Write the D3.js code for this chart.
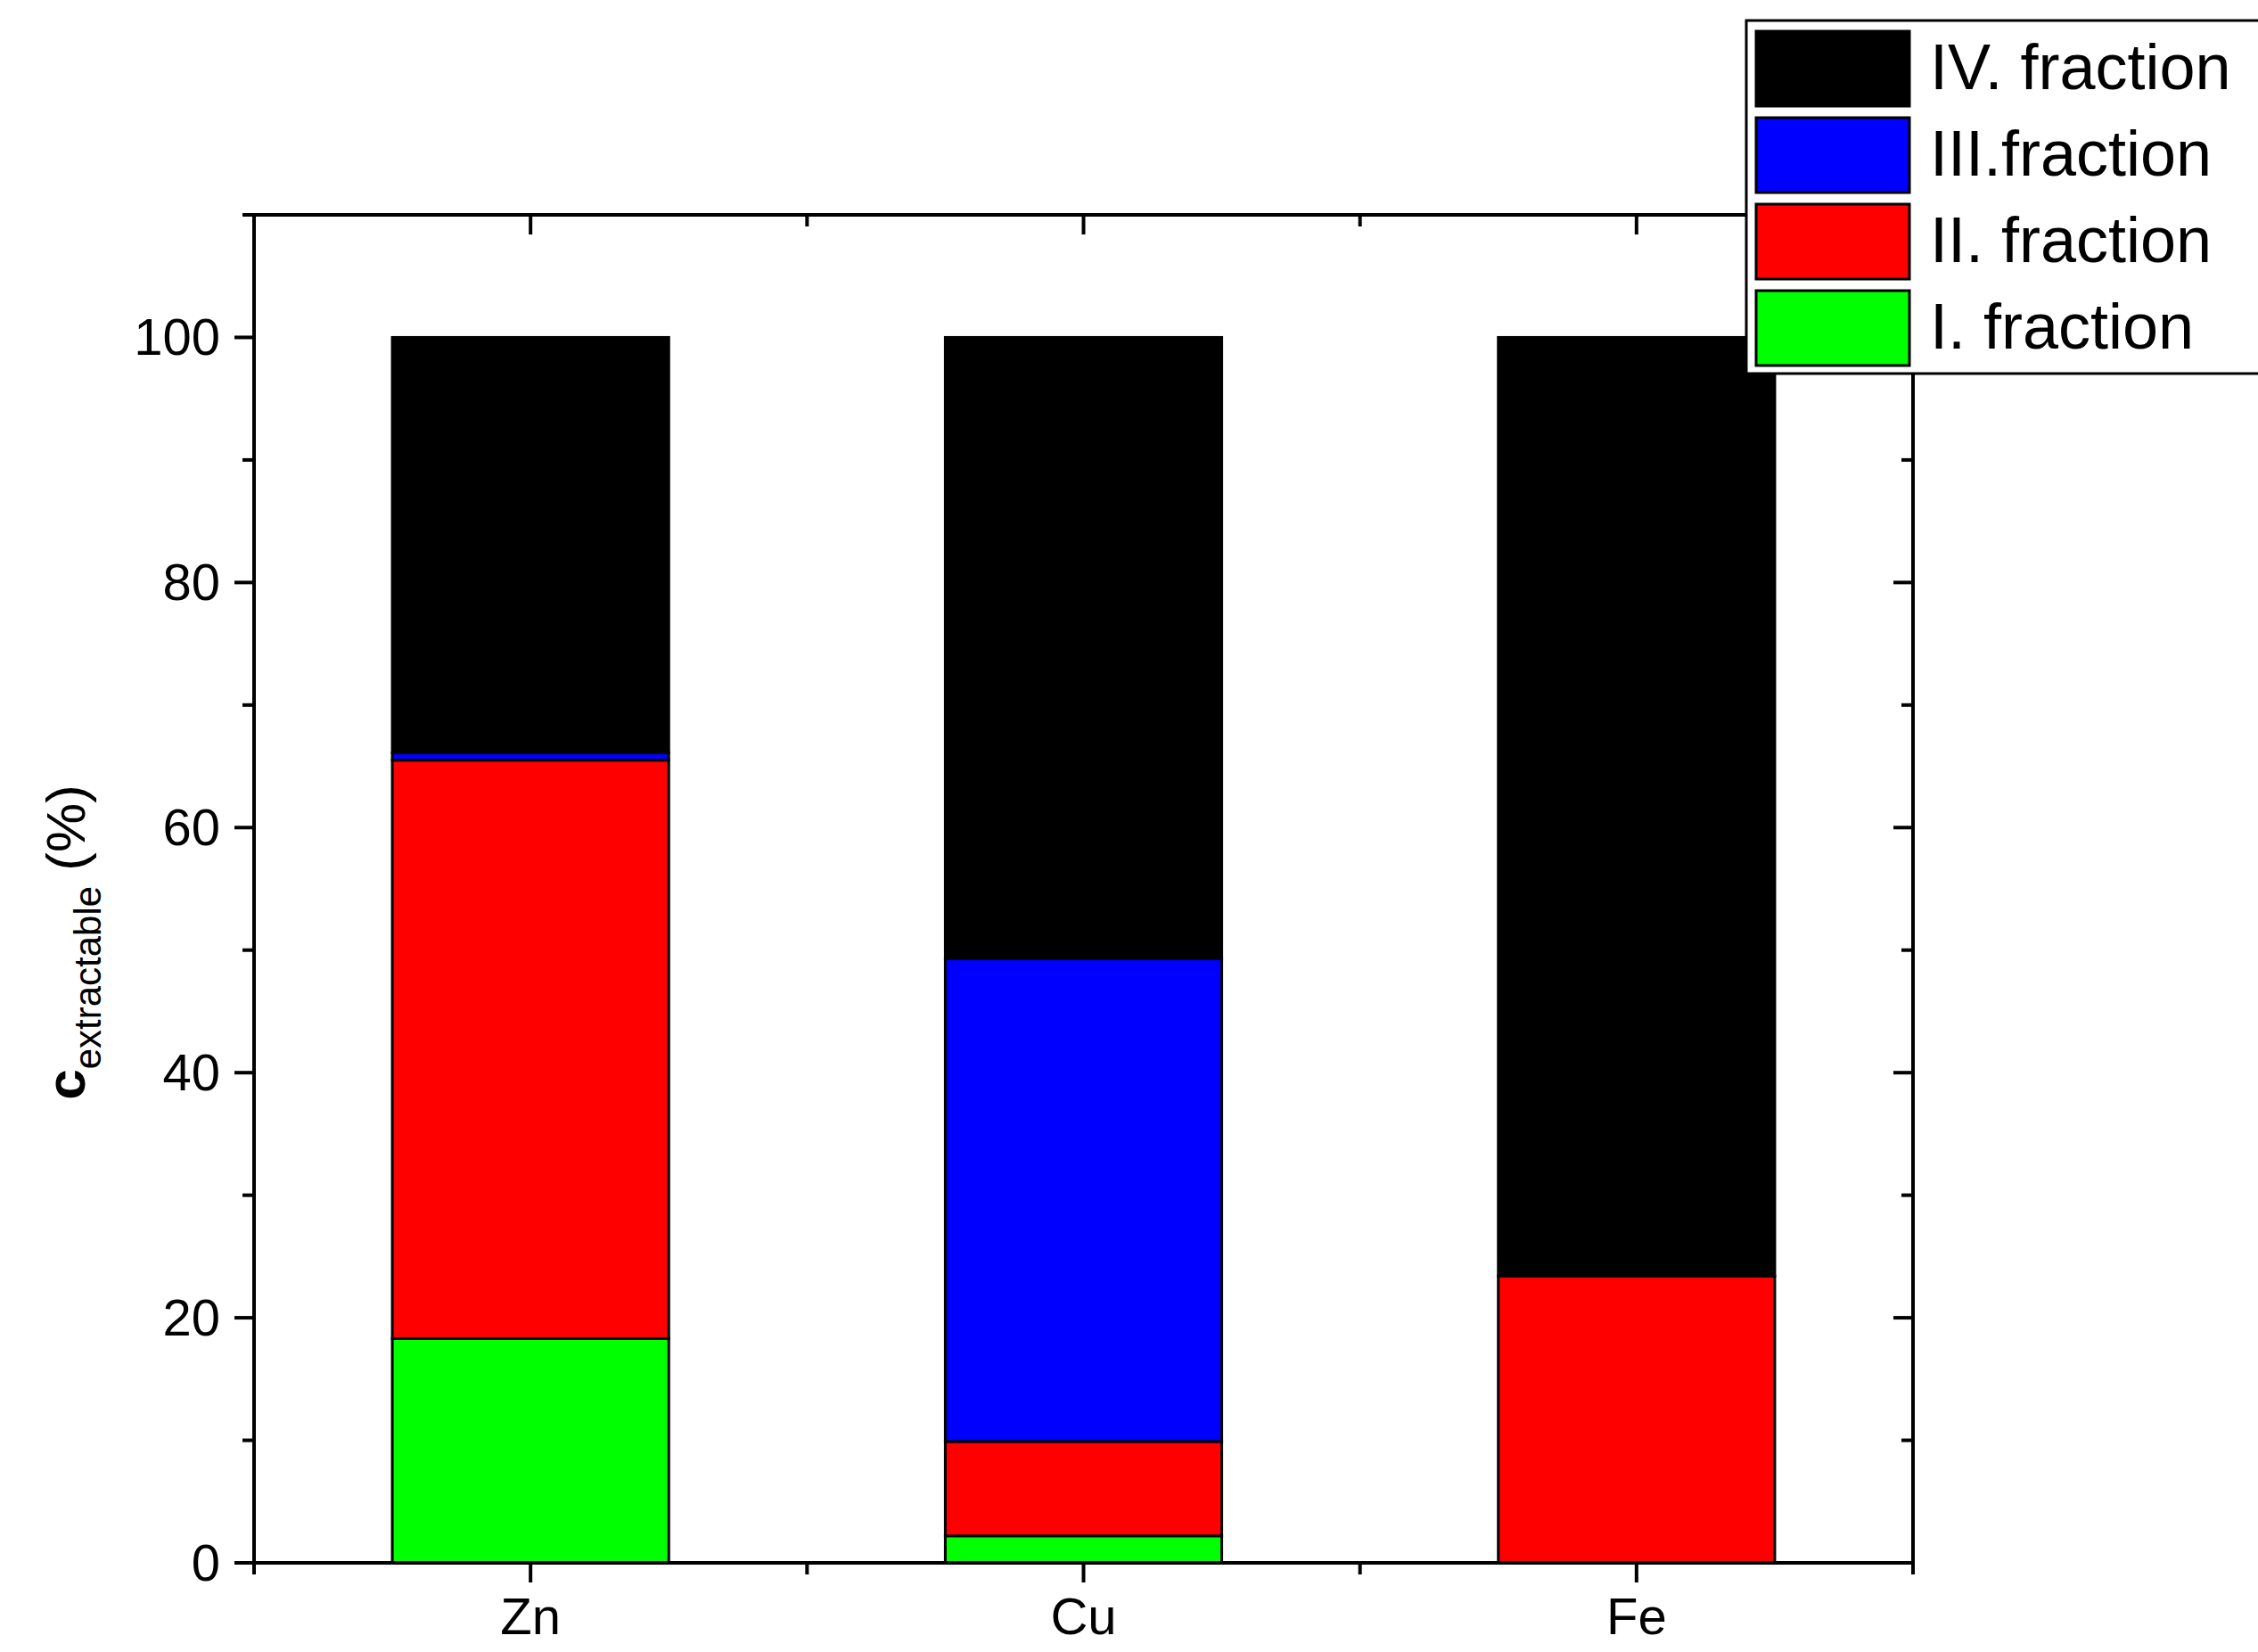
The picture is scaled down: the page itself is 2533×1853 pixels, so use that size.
<!DOCTYPE html><html><head><meta charset="utf-8">
<script src="https://cdn.jsdelivr.net/npm/d3@7"></script>
<style>body{margin:0;background:#fff}</style></head><body>
<script>
const categories=["Zn","Cu","Fe"];
const catPos=[1,3,5];
const seriesNames=["I. fraction","II. fraction","III.fraction","IV. fraction"];
const colors=["#00ff00","#ff0000","#0000ff","#000000"];
const fracI=[18.3,2.2,0];
const fracII=[47.2,7.7,23.4];
const fracIII=[0.6,39.4,0];
const fracIV=[33.9,50.7,76.6];
const yTicks=[0,20,40,60,80,100];

const W=2533,H=1853,L=285,R=2146,T=241,B=1753;
const svg=d3.select("body").append("svg").attr("width",W).attr("height",H).style("font-family","Liberation Sans, Arial");
const x=d3.scaleLinear().domain([0,6]).range([L,R]);
const y=d3.scaleLinear().domain([0,110]).range([B,T]);
const series=[fracI,fracII,fracIII,fracIV];
categories.forEach((c,i)=>{let base=0;series.forEach((s,k)=>{const v=s[i];if(v>0){
 svg.append("rect").attr("x",x(catPos[i]-0.5)).attr("width",x(1)-x(0)).attr("y",y(base+v)).attr("height",y(base)-y(base+v))
 .attr("fill",colors[k]).attr("stroke","#000").attr("stroke-width",3);}base+=v;});});
const g=svg.append("g").attr("stroke","#000").attr("stroke-width",4);
g.append("rect").attr("x",L).attr("y",T).attr("width",R-L).attr("height",B-T).attr("fill","none");
d3.range(0,111,10).forEach(v=>{const len=v%20===0?22:13;
 g.append("line").attr("x1",L-len).attr("x2",L).attr("y1",y(v)).attr("y2",y(v));
 g.append("line").attr("x1",R).attr("x2",R-len).attr("y1",y(v)).attr("y2",y(v));});
d3.range(0,7).forEach(v=>{const len=v%2===1?22:13;
 g.append("line").attr("x1",x(v)).attr("x2",x(v)).attr("y1",B).attr("y2",B+len);
 g.append("line").attr("x1",x(v)).attr("x2",x(v)).attr("y1",T).attr("y2",T+len);});
yTicks.forEach(v=>svg.append("text").attr("x",L-38).attr("y",y(v)+20).attr("text-anchor","end").attr("font-size",58).text(v));
categories.forEach((c,i)=>svg.append("text").attr("x",x(catPos[i])).attr("y",B+80).attr("text-anchor","middle").attr("font-size",58).text(c));
const yl=svg.append("text").attr("transform",`translate(95,${(T+B)/2+60}) rotate(-90)`).attr("text-anchor","middle").attr("font-size",62);
yl.append("tspan").attr("font-weight","bold").text("c");
yl.append("tspan").attr("font-size",42).attr("dy",18).text("extractable");
yl.append("tspan").attr("dy",-18).text(" (%)");
// legend
const lg=svg.append("g");
lg.append("rect").attr("x",1959).attr("y",23).attr("width",600).attr("height",396).attr("fill","#fff").attr("stroke","#000").attr("stroke-width",3);
[3,2,1,0].forEach((k,j)=>{const yy=35+j*97;
 lg.append("rect").attr("x",1970).attr("y",yy).attr("width",172).attr("height",84).attr("fill",colors[k]).attr("stroke","#000").attr("stroke-width",3);
 lg.append("text").attr("x",2165).attr("y",yy+65).attr("font-size",72).text(seriesNames[k]);});
</script></body></html>
